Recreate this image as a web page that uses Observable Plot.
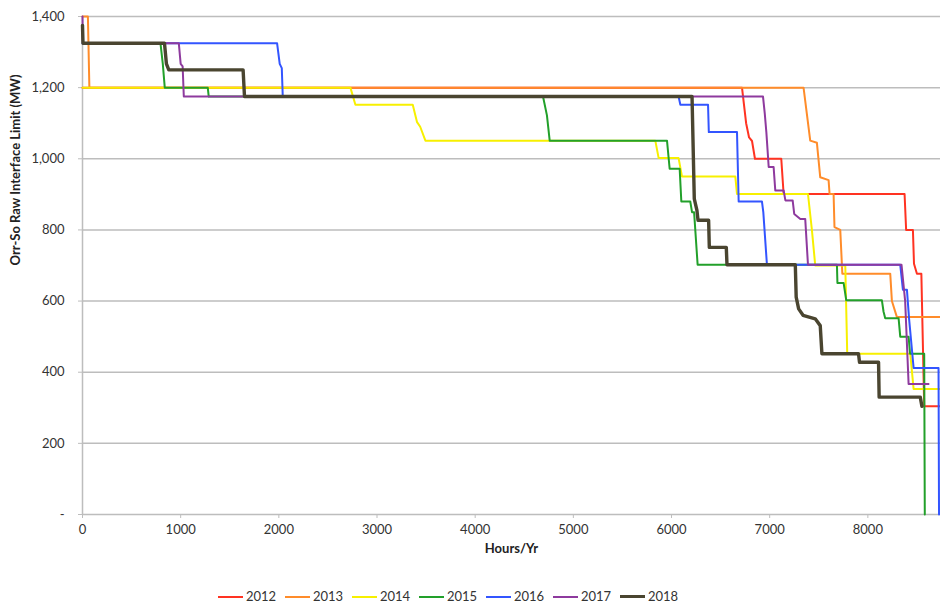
<!DOCTYPE html>
<html>
<head>
<meta charset="utf-8">
<script src="https://cdn.jsdelivr.net/npm/d3@7"></script>
<script src="https://cdn.jsdelivr.net/npm/@observablehq/plot@0.6"></script>
<style>
  body { margin: 0; background: #fff; font-family: Lato, "Open Sans", sans-serif; }
  #wrap { position: relative; width: 940px; height: 605px; overflow: hidden; }
  #legend { position: absolute; top: 589px; left: 218px; display: flex; font-size: 13px; color: #333; line-height: 15px; }
  .item { width: 67px; display: flex; align-items: center; }
  .sw { width: 25px; margin-right: 3px; }
</style>
</head>
<body>
<div id="wrap"><div id="chart"></div><div id="legend"></div></div>
<script>
const years = ["2012", "2013", "2014", "2015", "2016", "2017", "2018"];
const colors = ["#ff3322", "#ff8c2a", "#f7f000", "#22a02a", "#3355ff", "#8e3a9e", "#4a4530"];
const widths = [2, 2, 2, 2, 2, 2, 3.4];
const xTicks = [0, 1000, 2000, 3000, 4000, 5000, 6000, 7000, 8000];
const yTicks = [0, 200, 400, 600, 800, 1000, 1200, 1400];

const s2012 = [[0,1200],[6718,1200],[6760,1100],[6790,1060],[6820,1050],[6850,1000],[7118,1000],[7142,901],[8374,901],[8390,800],[8459,800],[8470,705],[8500,677],[8545,677],[8574,304],[8760,304]];
const s2013 = [[0,1400],[55,1400],[70,1200],[7345,1200],[7413,1051],[7481,1045],[7515,948],[7600,940],[7610,901],[7651,901],[7660,808],[7719,800],[7740,677],[8228,677],[8245,600],[8296,555],[8760,555]];
const s2014 = [[0,1200],[2729,1200],[2780,1152],[3364,1152],[3408,1103],[3440,1090],[3493,1051],[5835,1051],[5869,1002],[6072,1002],[6107,950],[6650,950],[6667,901],[7390,901],[7430,800],[7464,700],[7770,700],[7790,452],[8432,452],[8466,353],[8760,353]];
const s2015 = [[0,1375],[5,1325],[794,1325],[818,1267],[838,1200],[1276,1200],[1286,1175],[4691,1175],[4731,1122],[4759,1051],[5954,1051],[5981,972],[6083,972],[6100,880],[6191,880],[6209,850],[6230,850],[6266,702],[7685,702],[7690,651],[7753,651],[7780,602],[8143,602],[8160,570],[8177,552],[8313,552],[8330,500],[8415,500],[8430,452],[8574,452],[8580,0]];
const s2016 = [[0,1325],[1982,1325],[2009,1267],[2030,1255],[2040,1175],[6072,1175],[6090,1152],[6372,1152],[6380,1075],[6667,1075],[6684,880],[6921,880],[6935,850],[6972,702],[8330,702],[8357,632],[8398,632],[8420,550],[8466,412],[8720,412],[8725,0]];
const s2017 = [[0,1400],[3,1325],[981,1325],[1000,1267],[1020,1260],[1032,1175],[6932,1175],[6950,1127],[6966,1075],[6990,977],[7040,977],[7057,911],[7142,911],[7160,883],[7234,883],[7250,845],[7312,831],[7362,831],[7390,702],[8343,702],[8380,600],[8415,367],[8618,367]];
const s2018 = [[0,1375],[5,1325],[835,1325],[855,1267],[879,1250],[1636,1250],[1650,1175],[6209,1175],[6232,887],[6259,855],[6270,827],[6378,827],[6385,751],[6558,751],[6565,702],[7261,702],[7270,611],[7295,578],[7340,560],[7464,550],[7515,531],[7532,452],[7905,452],[7915,428],[8109,428],[8115,330],[8534,330],[8551,304]];
const series = [s2012, s2013, s2014, s2015, s2016, s2017, s2018];

const lineMarks = series.map((s, i) =>
  Plot.line(s.map(([h, mw]) => ({h, mw})), {x: "h", y: "mw", stroke: colors[i], strokeWidth: widths[i], strokeLinejoin: "round"})
);

const chart = Plot.plot({
  width: 940,
  height: 588,
  marginLeft: 82,
  marginRight: 0,
  marginTop: 16,
  marginBottom: 74,
  style: {fontFamily: "Lato, 'Open Sans', sans-serif", fontSize: "13px", color: "#333", background: "#fff"},
  x: {domain: [0, 8740]},
  y: {domain: [0, 1400]},
  marks: [
    Plot.gridY(yTicks, {stroke: "#bdbdbd", strokeOpacity: 1, strokeWidth: 1.5}),
    Plot.ruleX([0], {stroke: "#bdbdbd", strokeWidth: 1.5}),
    Plot.axisY(yTicks, {tickSize: 4, tickPadding: 14, stroke: "#bdbdbd", fill: "#333", label: null,
      tickFormat: d => d === 0 ? "-" : d3.format(",")(d)}),
    Plot.axisX(xTicks, {tickSize: 4, tickPadding: 6, stroke: "#bdbdbd", fill: "#333", label: null,
      tickFormat: d => String(d)}),
    ...lineMarks,
    Plot.text(["Hours/Yr"], {frameAnchor: "bottom", dy: 38, fontWeight: "bold", fill: "#222", fontSize: 13}),
    Plot.text(["Orr-So Raw Interface Limit (MW)"], {frameAnchor: "left", dx: -67, rotate: -90, fontWeight: "bold", fill: "#222", fontSize: 13})
  ]
});
document.getElementById("chart").appendChild(chart);

const legend = document.getElementById("legend");
years.forEach((y, i) => {
  const item = document.createElement("div");
  item.className = "item";
  const sw = document.createElement("div");
  sw.className = "sw";
  sw.style.height = (i === 6 ? 3 : 2) + "px";
  sw.style.background = colors[i];
  const t = document.createElement("span");
  t.textContent = y;
  item.appendChild(sw);
  item.appendChild(t);
  legend.appendChild(item);
});
</script>
</body>
</html>
